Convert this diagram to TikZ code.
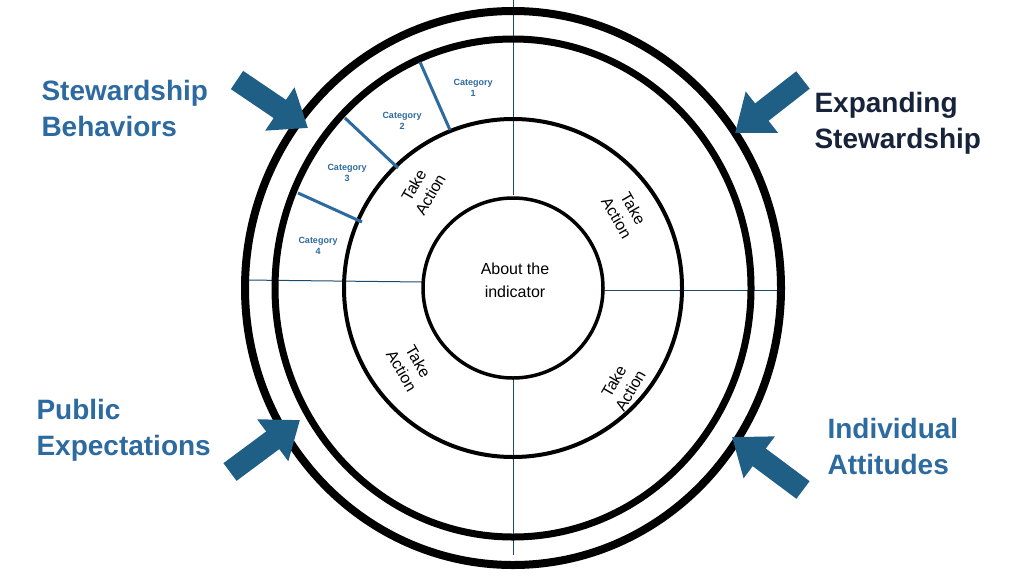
\documentclass[tikz,border=0pt]{standalone}
\usepackage{fontspec}
\setmainfont{Liberation Sans}
\usetikzlibrary{arrows.meta}
\definecolor{arrowblue}{HTML}{1F5E85}
\definecolor{lblblue}{HTML}{2C6AA0}
\definecolor{navy}{HTML}{17233A}
\begin{document}
\begin{tikzpicture}[x=1pt,y=-1pt,
  ring/.style={draw=black},
  sep/.style={draw=arrowblue!80!black,line width=1pt},
  catline/.style={draw=lblblue,line width=3pt},
  cat/.style={text=lblblue,font=\fontsize{9}{11}\selectfont\bfseries,align=center},
  big/.style={font=\fontsize{28}{36}\selectfont\bfseries,align=left,anchor=west},
  take/.style={font=\fontsize{16}{19}\selectfont,align=center},
  blk/.style={draw=arrowblue,line width=22pt,-{Triangle[width=50pt,length=34pt]}}]
\useasboundingbox (0,0) rectangle (1024,576);
\coordinate (c) at (513,288);
\draw[sep] (513,0) -- (513,195);
\draw[sep] (513,377) -- (513,555);
\draw[sep] (245,280) -- (423,282);
\draw[sep] (603,290) -- (782,290);
\draw[ring,line width=8pt] (c) ellipse [x radius=268,y radius=277];
\draw[ring,line width=7pt] (c) ellipse [x radius=238,y radius=249];
\draw[ring,line width=4pt] (c) circle (169);
\draw[ring,line width=3.5pt] (c) circle (90);
\node[align=center,font=\fontsize{16}{23}\selectfont] (about) at (515,280) {About the\\indicator};
\draw[catline] (420,62) -- (450,130);
\draw[catline] (345,118) -- (398,168);
\draw[catline] (298,193) -- (362,222);
\node[cat] (c1) at (473,88) {Category\\1};
\node[cat] (c2) at (402,121) {Category\\2};
\node[cat] (c3) at (347,173) {Category\\3};
\node[cat] (c4) at (318,246) {Category\\4};
\node[take,rotate=60] (t1) at (422,190) {Take\\Action};
\node[take,rotate=-60] (t2) at (625,213) {Take\\Action};
\node[take,rotate=-60] (t3) at (410,366) {Take\\Action};
\node[take,rotate=60] (t4) at (622,386) {Take\\Action};
\coordinate (a1) at (237,80); \coordinate (b1) at (308,128);
\coordinate (a2) at (803,80); \coordinate (b2) at (735,133);
\coordinate (a3) at (230,472); \coordinate (b3) at (300,420);
\coordinate (a4) at (803,490); \coordinate (b4) at (732,437);
\draw[blk] (a1) -- (b1);
\draw[blk] (a2) -- (b2);
\draw[blk] (a3) -- (b3);
\draw[blk] (a4) -- (b4);
\node[big,text=lblblue] (sb) at (38,108) {Stewardship\\Behaviors};
\node[big,text=navy] (es) at (811,123) {Expanding\\Stewardship};
\node[big,text=lblblue] (pe) at (33,430) {Public\\Expectations};
\node[big,text=lblblue] (ia) at (824,446) {Individual\\Attitudes};
\end{tikzpicture}
\end{document}
